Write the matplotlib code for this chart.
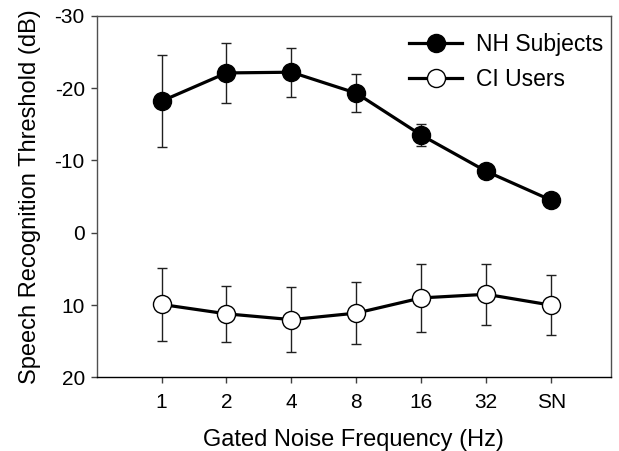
import matplotlib.pyplot as plt

plt.rcParams['font.family'] = ['Liberation Sans', 'DejaVu Sans']
plt.rcParams['axes.unicode_minus'] = False

# Gated noise conditions
freq_labels = ['1', '2', '4', '8', '16', '32', 'SN']

# NH subjects: mean SRT (dB) and error bar size
nh_mean = [-18.2, -22.1, -22.2, -19.3, -13.5, -8.5, -4.5]
nh_err = [6.4, 4.2, 3.4, 2.6, 1.5, 0.0, 0.0]

# CI users
ci_mean = [9.9, 11.2, 12.0, 11.1, 9.0, 8.5, 10.0]
ci_err = [5.0, 3.9, 4.5, 4.3, 4.7, 4.2, 4.1]

x = list(range(1, len(freq_labels) + 1))

fig = plt.figure(figsize=(6.19, 4.51), dpi=100)
ax = fig.add_axes([0.156, 0.163, 0.831, 0.802])

ax.errorbar(x, nh_mean, yerr=nh_err, fmt='none', ecolor='#202020',
            elinewidth=1, capsize=3.5, capthick=1, zorder=1)
ax.errorbar(x, ci_mean, yerr=ci_err, fmt='none', ecolor='#202020',
            elinewidth=1, capsize=3.5, capthick=1, zorder=1)
ax.plot(x, nh_mean, color='black', lw=2.3, marker='o', ms=13,
        mfc='black', mec='black', label='NH Subjects', zorder=3)
ax.plot(x, ci_mean, color='black', lw=2.3, marker='o', ms=13,
        mfc='white', mec='black', mew=1, label='CI Users', zorder=3)

ax.set_xlim(0, 7.92)
ax.set_ylim(20, -30)
ax.set_xticks(x)
ax.set_xticklabels(freq_labels)
ax.set_yticks([-30, -20, -10, 0, 10, 20])
ax.tick_params(labelsize=15, length=4.5, width=1, color='#404040')
ax.tick_params(axis='x', pad=7)
ax.tick_params(axis='y', pad=4)

for s in ax.spines.values():
    s.set_color('#505050')
    s.set_linewidth(1)
ax.spines['bottom'].set_color('black')

ax.set_xlabel('Gated Noise Frequency (Hz)', fontsize=17, labelpad=12)
ax.set_ylabel('Speech Recognition Threshold (dB)', fontsize=17, labelpad=10)

ax.legend(loc='upper right', bbox_to_anchor=(1.0, 0.975), frameon=False,
          fontsize=16.5, handlelength=2.3, labelspacing=0.55, handletextpad=0.6,
          borderaxespad=0.0, borderpad=0.35)

fig.savefig('out.png', dpi=100)
